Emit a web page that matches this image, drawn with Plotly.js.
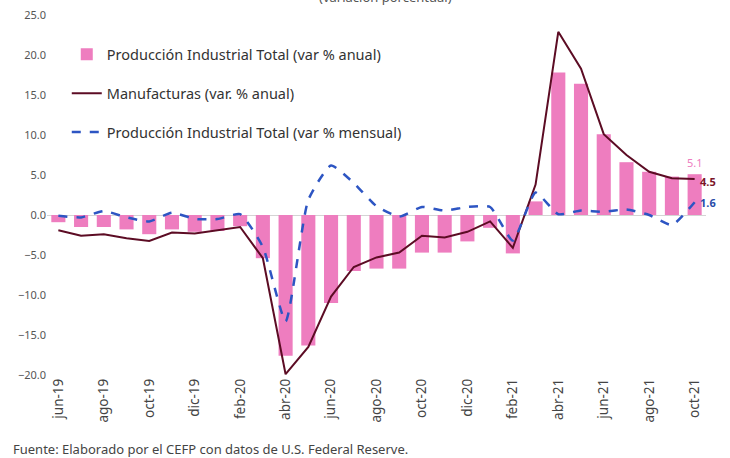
<!DOCTYPE html>
<html>
<head>
<meta charset="utf-8">
<script src="https://cdn.plot.ly/plotly-3.0.1.min.js"></script>
<style>html,body{margin:0;padding:0;background:#fff;}#chart{width:730px;height:458px;}</style>
</head>
<body>
<div id="chart"></div>
<script>
const months = ["jun-19","jul-19","ago-19","sep-19","oct-19","nov-19","dic-19","ene-20","feb-20","mar-20","abr-20","may-20","jun-20","jul-20","ago-20","sep-20","oct-20","nov-20","dic-20","ene-21","feb-21","mar-21","abr-21","may-21","jun-21","jul-21","ago-21","sep-21","oct-21"];
const tickLabels = ["jun-19","ago-19","oct-19","dic-19","feb-20","abr-20","jun-20","ago-20","oct-20","dic-20","feb-21","abr-21","jun-21","ago-21","oct-21"];
const prodAnual = [-0.9,-1.5,-1.5,-1.8,-2.4,-1.8,-2.1,-2.0,-1.4,-5.4,-17.6,-16.3,-11.0,-7.0,-6.7,-6.7,-4.7,-4.7,-3.3,-1.6,-4.8,1.7,17.8,16.4,10.1,6.6,5.4,4.8,5.1];
const manufacturas = [-1.9,-2.6,-2.4,-2.9,-3.25,-2.2,-2.3,-1.9,-1.5,-5.4,-19.9,-16.5,-10.2,-6.5,-5.3,-4.7,-2.6,-2.8,-2.1,-0.8,-4.1,3.8,22.9,18.3,10.1,7.5,5.4,4.6,4.5];
const prodMensual = [-0.1,-0.3,0.5,-0.3,-0.8,0.3,-0.5,-0.5,0.1,-4.0,-13.3,1.9,6.2,4.0,1.1,-0.2,1.0,0.55,1.0,1.0,-3.2,2.8,0.1,0.55,0.4,0.7,0.0,-1.25,1.6];
const names = ["Producción Industrial Total (var % anual)","Manufacturas (var. % anual)","Producción Industrial Total (var % mensual)"];
const subtitle = "(variación porcentual)";
const source = "Fuente: Elaborado por el CEFP con datos de U.S. Federal Reserve.";

const pink = "#EE7DBF", maroon = "#5C0C24", blue = "#2D55C3";
const FONT = "Noto Sans, sans-serif";
const last = months[months.length - 1];

const traces = [
  {type:"bar", x:months, y:prodAnual, name:names[0], marker:{color:pink}, legendgroup:"a"},
  {type:"scatter", mode:"lines", x:months, y:manufacturas, name:names[1], line:{color:maroon, width:2}, legendgroup:"b"},
  {type:"scatter", mode:"lines", x:months, y:prodMensual, name:names[2], line:{color:blue, width:2.5, dash:"dash", shape:"spline", smoothing:0.5}, legendgroup:"c"}
];

const layout = {
  width:730, height:458,
  margin:{l:47, r:24, t:15, b:83},
  paper_bgcolor:"#fff", plot_bgcolor:"#fff",
  font:{family:FONT, color:"#444"},
  bargap:0.38,
  showlegend:true,
  legend:{x:0.03, y:0.935, xanchor:"left", yanchor:"top", bgcolor:"rgba(0,0,0,0)", font:{size:14.5, color:"#333", family:FONT}, traceorder:"grouped", tracegroupgap:17},
  xaxis:{type:"category", range:[-0.5, months.length - 0.5], tickmode:"array", tickvals:tickLabels, ticktext:tickLabels, tickangle:-90, tickfont:{size:13.5, color:"#444"}, showline:false, showgrid:false, zeroline:false, ticks:""},
  yaxis:{range:[-20,25], dtick:5, tick0:0, tickformat:".1f", tickfont:{size:11, color:"#555"}, showgrid:false, showline:false, zeroline:true, zerolinecolor:"#d4d4d4", zerolinewidth:1, ticks:""},
  annotations:[
    {xref:"x", yref:"y", x:last, y:prodAnual[prodAnual.length-1], text:"5.1", showarrow:false, yanchor:"bottom", yshift:2, font:{size:11, color:pink, family:FONT}},
    {xref:"x", yref:"y", x:last, y:manufacturas[manufacturas.length-1], text:"<b>4.5</b>", showarrow:false, xanchor:"left", xshift:3, yshift:-2, font:{size:11, color:"#7A1528", family:FONT}},
    {xref:"x", yref:"y", x:last, y:prodMensual[prodMensual.length-1], text:"<b>1.6</b>", showarrow:false, xanchor:"left", xshift:3, font:{size:11, color:"#2A4CA8", family:FONT}},
    {xref:"paper", yref:"paper", x:0.513, y:1.02, xanchor:"center", yanchor:"bottom", text:subtitle, showarrow:false, font:{size:13, color:"#555", family:FONT}},
    {xref:"paper", yref:"paper", x:-0.055, y:-0.175, xanchor:"left", yanchor:"top", text:source, showarrow:false, font:{size:13, color:"#444", family:FONT}}
  ]
};

Plotly.newPlot("chart", traces, layout, {displayModeBar:false, staticPlot:true});
</script>
</body>
</html>
